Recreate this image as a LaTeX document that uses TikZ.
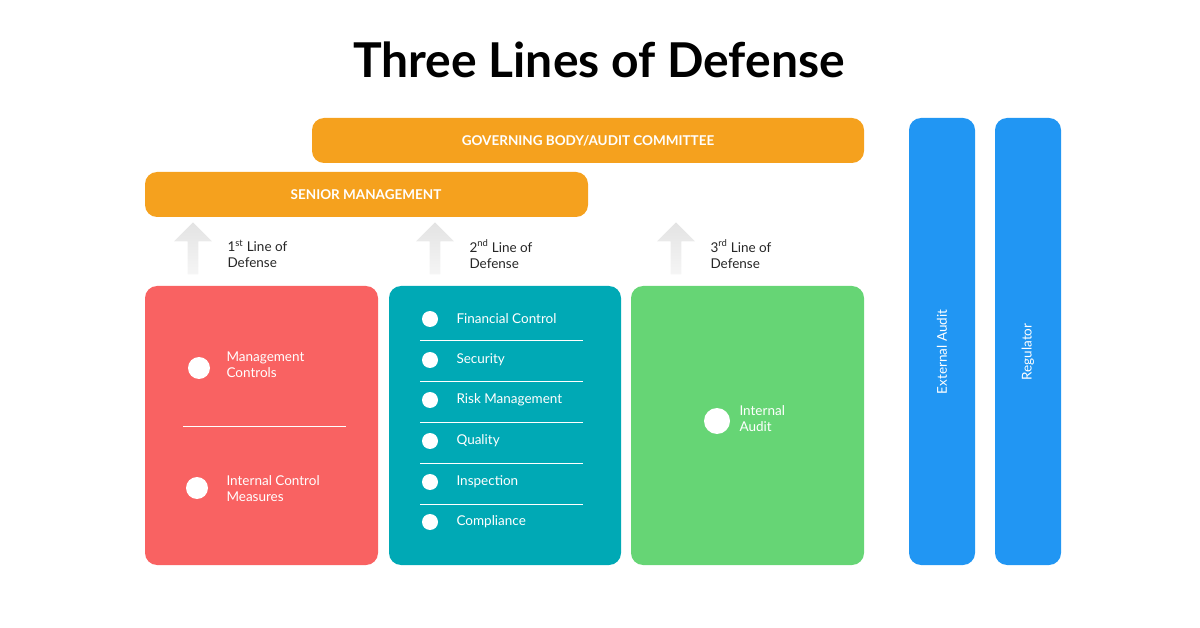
\documentclass[tikz,border=0pt]{standalone}
\usepackage{fontspec}
\setmainfont{Lato}
\usetikzlibrary{positioning,shapes.arrows}
\definecolor{orng}{HTML}{F5A11E}
\definecolor{blu}{HTML}{2196F3}
\definecolor{redbx}{HTML}{F96262}
\definecolor{tealbx}{HTML}{00A9B5}
\definecolor{grnbx}{HTML}{66D575}
\definecolor{arrgray}{HTML}{E3E3E3}
\tikzset{
  bar/.style={fill=orng, rounded corners=12pt},
  bartxt/.style={text=white, font=\fontsize{13.5}{16}\selectfont\bfseries},
  col/.style={fill=blu, rounded corners=12pt},
  box/.style={rounded corners=12pt},
  lbl/.style={anchor=west, align=left, font=\fontsize{13.5}{16}\selectfont, text=black!85},
  item/.style={anchor=west, align=left, text=white, font=\fontsize{13.5}{16}\selectfont},
  sep/.style={white, line width=0.8pt},
  ico/.style={fill=white, circle, inner sep=0pt, minimum size=16pt},
  uparr/.style={single arrow, shape border rotate=90, top color=arrgray, bottom color=arrgray!35,
    minimum height=52pt, minimum width=38pt, single arrow head extend=8pt, inner sep=3pt}
}
\begin{document}
\begin{tikzpicture}[x=1pt,y=-1pt]
\useasboundingbox (0,0) rectangle (1200,628);
% title
\node (title) at (599,60) {\fontsize{48}{54}\selectfont\bfseries Three Lines of Defense};
% management bars
\fill[bar] (312,118) rectangle (864,163);
\node[bartxt] (gov) at (588,141) {GOVERNING BODY/AUDIT COMMITTEE};
\fill[bar] (145,172) rectangle (588,217);
\node[bartxt] (senior) at (366,195) {SENIOR MANAGEMENT};
% outside columns
\fill[col] (909,118) rectangle (975,565);
\fill[col] (995,118) rectangle (1061,565);
\node[rotate=90, text=white, font=\fontsize{13.5}{16}\selectfont] (ext) at (942,352) {External Audit};
\node[rotate=90, text=white, font=\fontsize{13.5}{16}\selectfont] (reg) at (1028,352) {Regulator};
% arrows and line labels
\foreach \x/\n/\s in {193/1/st, 435/2/nd, 676/3/rd}{
  \node[uparr] (arr\n) at (\x,251) {};
  \node[lbl] (line\n) at (\x+31,254) {\n\textsuperscript{\s} Line of\\Defense};
}
% first line
\fill[redbx, box] (145,286) rectangle (378,565);
\node[ico, minimum size=22pt] (icomgmt) at (199,368) {};
\node[item] (mgmt) at (223,365) {Management\\Controls};
\draw[sep] (183,426) -- (346,426);
\node[ico, minimum size=22pt] (icoicm) at (197,488) {};
\node[item] (icm) at (223,489) {Internal Control\\Measures};
% second line
\fill[tealbx, box] (389,286) rectangle (621,565);
\foreach \y/\t [count=\i] in {319/Financial Control, 360/Security, 400/Risk Management,
    441/Quality, 482/Inspection, 522/Compliance}{
  \node[ico] (ico\i) at (430,\y) {};
  \node[item] (it\i) at (453,\y) {\t};
}
\foreach \y in {340,381,422,463,504}{
  \draw[sep] (420,\y) -- (583,\y);
}
% third line
\fill[grnbx, box] (631,286) rectangle (864,565);
\node[ico, minimum size=26pt] (icoaudit) at (717,421) {};
\node[item] (audit) at (736,419) {Internal\\Audit};
\end{tikzpicture}
\end{document}
